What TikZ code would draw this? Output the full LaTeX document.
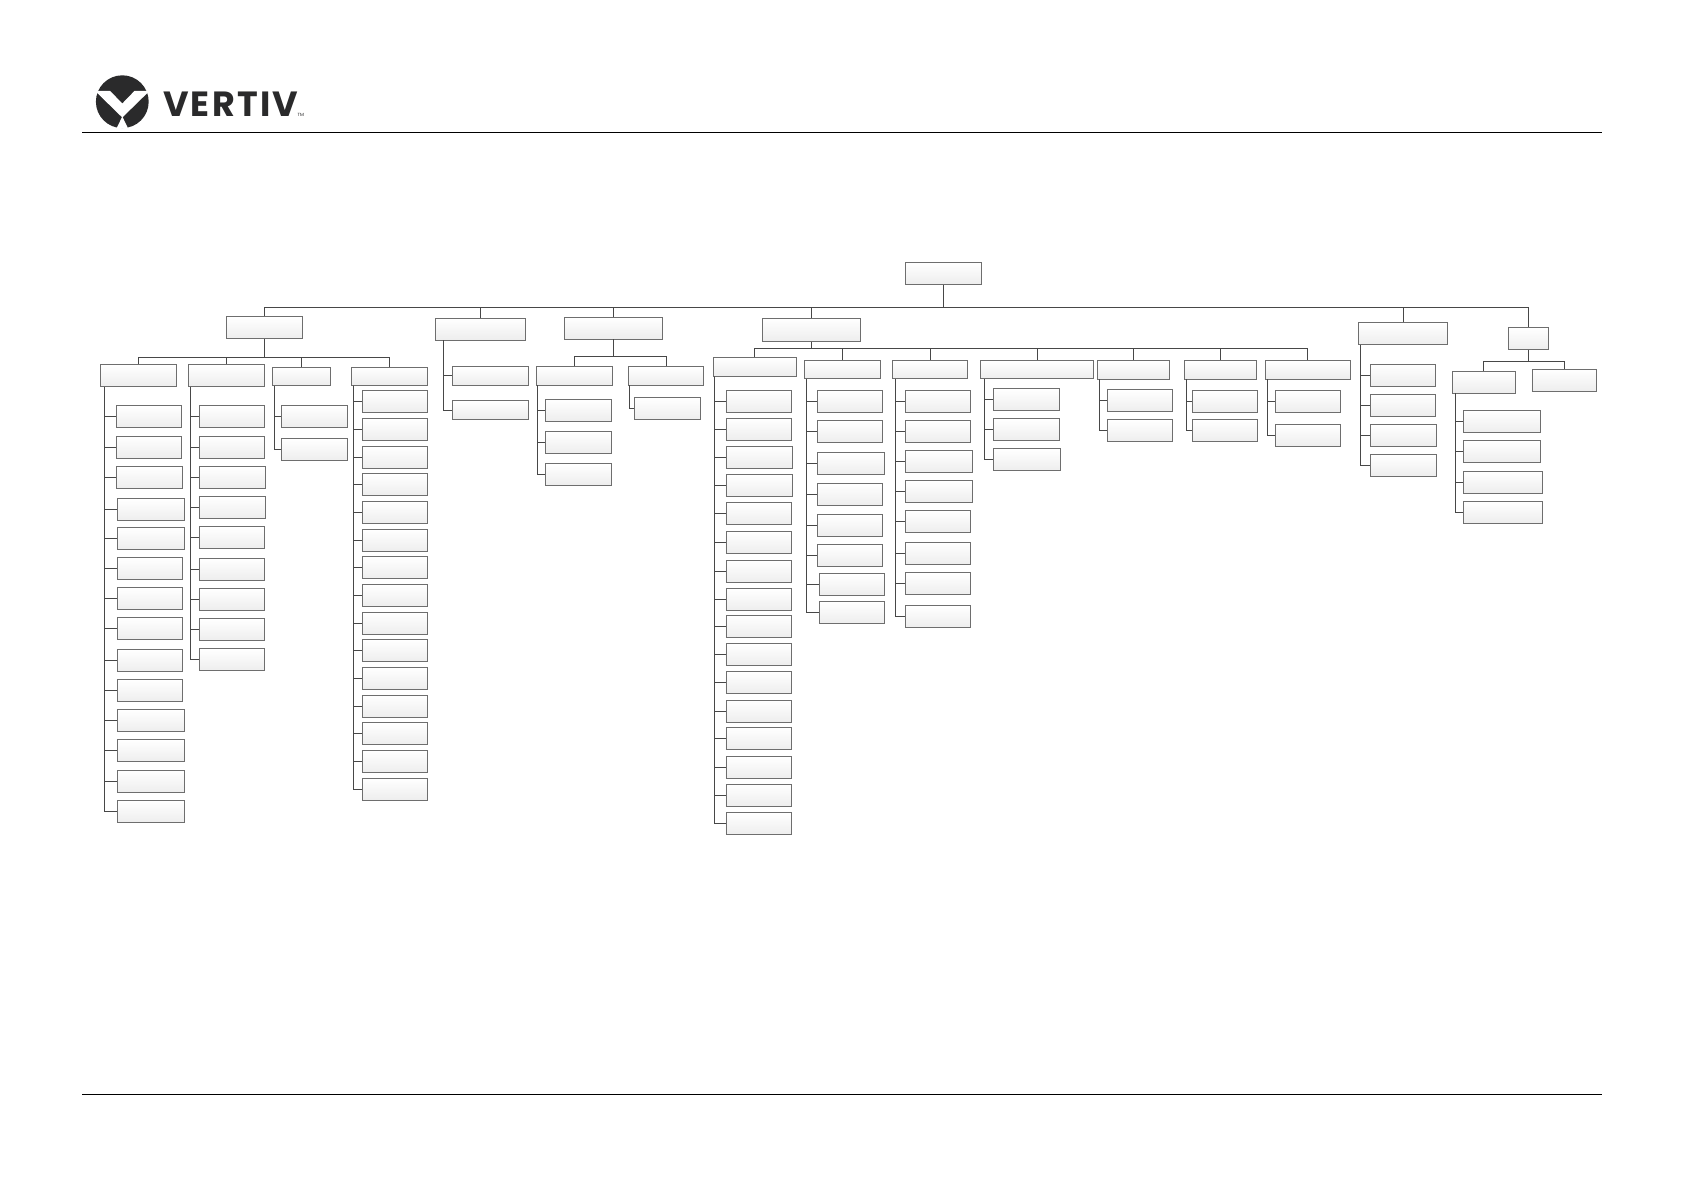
\documentclass[tikz,border=0pt]{standalone}
\usepackage{fontspec}
\setmainfont{Poppins}
\usepackage{xcolor}
\usetikzlibrary{positioning}

\definecolor{logoblack}{HTML}{2A2A2B}
\definecolor{linegray}{HTML}{6E6E6E}

% one stack of leaf boxes under a parent box
\newcommand{\leaves}[4][]{%
  \foreach \n/\x/\w/\y in {#4} {
    \node[leaf, #1, minimum width=\w pt - 0.8pt] (#2l\n) at (\x,\y) {};
    \draw[conn] ([xshift=#3pt]#2.south west) |- (#2l\n.west);
  }%
}

\begin{document}
\begin{tikzpicture}[
    x=1pt, y=-1pt,
    box/.style={draw=linegray, line width=0.8pt, inner sep=0pt,
                top color=white, bottom color=gray!14,
                minimum width=75.2pt, minimum height=22pt},
    low/.style={box, minimum height=18.3pt},
    leaf/.style={box, anchor=west},
    conn/.style={draw=black!72, line width=0.9pt},
    rule/.style={draw=black, line width=0.8pt}
  ]
  \useasboundingbox (0,0) rectangle (1684,1191);

  % page rules
  \coordinate (ruleTL) at (82.3,132);
  \coordinate (ruleTR) at (1601.7,132);
  \coordinate (ruleBL) at (82.3,1094.3);
  \coordinate (ruleBR) at (1601.7,1094.3);
  \draw[rule] (ruleTL) -- (ruleTR);
  \draw[rule] (ruleBL) -- (ruleBR);

  % logo
  \fill[logoblack] (122.3,101.7) circle (26.4pt);
  \fill[white] (95,90.8) -- (110,90.8) -- (122.3,103.5) -- (134.6,90.8)
    -- (149.6,90.8) -- (122.3,117.5) -- cycle;
  \fill[white] (122.3,116.5) -- (116.5,128.5) -- (128.1,128.5) -- cycle;
  \node[anchor=west, inner sep=0pt, text=logoblack,
        font=\fontsize{35}{35}\selectfont\bfseries\addfontfeatures{LetterSpace=6.5}] (brand) at (162.8,103.8) {VERTIV};
  \node[anchor=west, inner sep=0pt, text=logoblack,
        font=\fontsize{4.5}{5}\selectfont] (tm) at (297.5,114.5) {TM};

  % root and first level
  \node[box] (root) at (943.3,273.3) {};
  \node[box] (a1) at (264.3,327.8) {};
  \node[box, minimum width=89.6pt] (a2) at (480.5,329) {};
  \node[box, minimum width=97.2pt] (a3) at (613.3,328) {};
  \node[box, minimum width=97.2pt, minimum height=23.2pt] (a4) at (811.3,329.7) {};
  \node[box, minimum width=88.6pt] (a5) at (1403,333.7) {};
  \node[box, minimum width=39.6pt] (a6) at (1528.5,338.8) {};
  \coordinate (busroot) at (943.3,307);
  \draw[conn] (root.south) -- (busroot);
  \foreach \n in {a1,a2,a3,a4,a5,a6}
    \draw[conn] (busroot) -| (\n.north);

  % second level
  \node[box] (b11) at (138.3,375.7) {};
  \node[box] (b12) at (226.3,375.7) {};
  \node[low, minimum width=57.6pt] (b13) at (301.5,376.2) {};
  \node[low] (b14) at (389.3,376.2) {};
  \coordinate (bus1) at (264.3,357.3);
  \draw[conn] (a1.south) -- (bus1);
  \foreach \n in {b11,b12,b13,b14}
    \draw[conn] (bus1) -| (\n.north);

  \node[low] (b31) at (574.3,375.8) {};
  \node[low] (b32) at (666.1,375.8) {};
  \coordinate (bus3) at (613.3,356.7);
  \draw[conn] (a3.south) -- (bus3);
  \foreach \n in {b31,b32}
    \draw[conn] (bus3) -| (\n.north);

  \node[low, minimum width=82.5pt] (b41) at (754.7,367) {};
  \node[low] (b42) at (842.3,369.7) {};
  \node[low] (b43) at (930.1,369.7) {};
  \node[low, minimum width=112.8pt] (b44) at (1037.1,369.7) {};
  \node[low, minimum width=71.2pt] (b45) at (1133.3,369.8) {};
  \node[low, minimum width=71.5pt] (b46) at (1220.2,369.8) {};
  \node[low, minimum width=84.2pt] (b47) at (1307.8,369.8) {};
  \coordinate (bus4) at (811.3,348);
  \draw[conn] (a4.south) -- (bus4);
  \foreach \n in {b41,b42,b43,b44,b45,b46,b47}
    \draw[conn] (bus4) -| (\n.north);

  \node[box, minimum width=62.2pt] (b61) at (1483.8,382) {};
  \node[box, minimum width=64.9pt] (b62) at (1564.4,380.2) {};
  \coordinate (bus6) at (1528.5,361.3);
  \draw[conn] (a6.south) -- (bus6);
  \foreach \n in {b61,b62}
    \draw[conn] (bus6) -| (\n.north);

  % leaf stacks
  \leaves{b11}{4}{1/115.7/66/416.8, 2/115.7/66/447.2, 3/115.7/67/477.5,
    4/117.3/67/509.8, 5/117.3/67/538.7, 6/117.3/65.7/568.8, 7/117.3/65.7/598.8,
    8/117.3/65.7/628.8, 9/117.3/65.7/660.7, 10/117.3/65.7/690.8,
    11/117.3/67/720.8, 12/117.3/67/750.8, 13/117.3/67/781.2, 14/117.3/67/811.5}
  \leaves{b12}{2.6}{1/198.7/65.7/416.8, 2/198.7/65.7/447.2, 3/198.7/67/477.5,
    4/198.7/67/507.6, 5/198.7/65.7/537.8, 6/198.7/65.7/569.2, 7/198.7/65.7/599.5,
    8/198.7/65.7/629.8, 9/198.7/65.7/659.8}
  \leaves{b13}{1.7}{1/281.3/66/416.8, 2/281.3/66/449.8}
  \leaves{b14}{2.6}{1/362.3/65.4/401.8, 2/362.3/65.4/429.8, 3/362.3/65.4/457.4,
    4/362.3/65.4/484.8, 5/362.3/65.4/512.8, 6/362.3/65.4/540.4, 7/362.3/65.4/567.8,
    8/362.3/65.4/595.8, 9/362.3/65.4/623.4, 10/362.3/65.4/650.8, 11/362.3/65.4/678.5,
    12/362.3/65.4/706.2, 13/362.3/65.4/733.8, 14/362.3/65.4/761.5, 15/362.3/65.4/789.2}
  \leaves[minimum height=18.3pt]{a2}{8.4}{1/452.3/76/375.8, 2/452.3/76/410}
  \leaves{b31}{1.4}{1/545.3/66.4/410.3, 2/545.3/66.4/442.8, 3/545.3/66.4/474.5}
  \leaves{b32}{1.4}{1/634.3/66/408.8}
  \leaves{b41}{1.3}{1/725.5/66/401.4, 2/725.5/66/429.2, 3/725.5/67/457.2,
    4/725.5/67/485.8, 5/725.5/66/513.8, 6/725.5/66/542.4, 7/725.5/66/571.7,
    8/725.5/66/599.8, 9/725.5/66/626.4, 10/725.5/66/654.7, 11/725.5/66/682.8,
    12/725.5/66/711, 13/725.5/66/738.7, 14/725.5/66/767.8, 15/725.5/66/795,
    16/725.5/66/823.7}
  \leaves{b42}{2.6}{1/817.3/65.7/401.8, 2/817.3/65.7/431.8, 3/817.3/67/463.8,
    4/817.3/65.7/494.2, 5/817.3/65.7/525.8, 6/817.3/65.7/555.8, 7/818.7/65.6/584.8,
    8/818.7/65.6/612.8}
  \leaves{b43}{3}{1/905.3/65.7/401.5, 2/905.3/65.7/431.8, 3/905.3/67/461.8,
    4/905.3/67/491.8, 5/905.3/65.7/521.8, 6/905.3/65.7/553.5, 7/905.3/65.7/583.8,
    8/905.3/65.7/616.8}
  \leaves{b44}{4}{1/993.3/66/399.8, 2/993.3/66/429.8, 3/993.3/67.4/459.8}
  \leaves{b45}{2.6}{1/1106.7/66/400.8, 2/1106.7/66/430.8}
  \leaves{b46}{2.3}{1/1192.3/65.7/401.8, 2/1192.3/65.7/430.8}
  \leaves{b47}{2.6}{1/1275.3/65.7/401.8, 2/1275.3/65.7/435.5}
  \leaves{a5}{1.7}{1/1369.7/65.6/375, 2/1369.7/65.6/405.3, 3/1369.7/66.6/435.6,
    4/1369.7/66.6/465.8}
  \leaves{b61}{3}{1/1463.3/77/421.6, 2/1463.3/77/451.8, 3/1463.3/79.4/482,
    4/1463.3/79.4/512}
\end{tikzpicture}
\end{document}
